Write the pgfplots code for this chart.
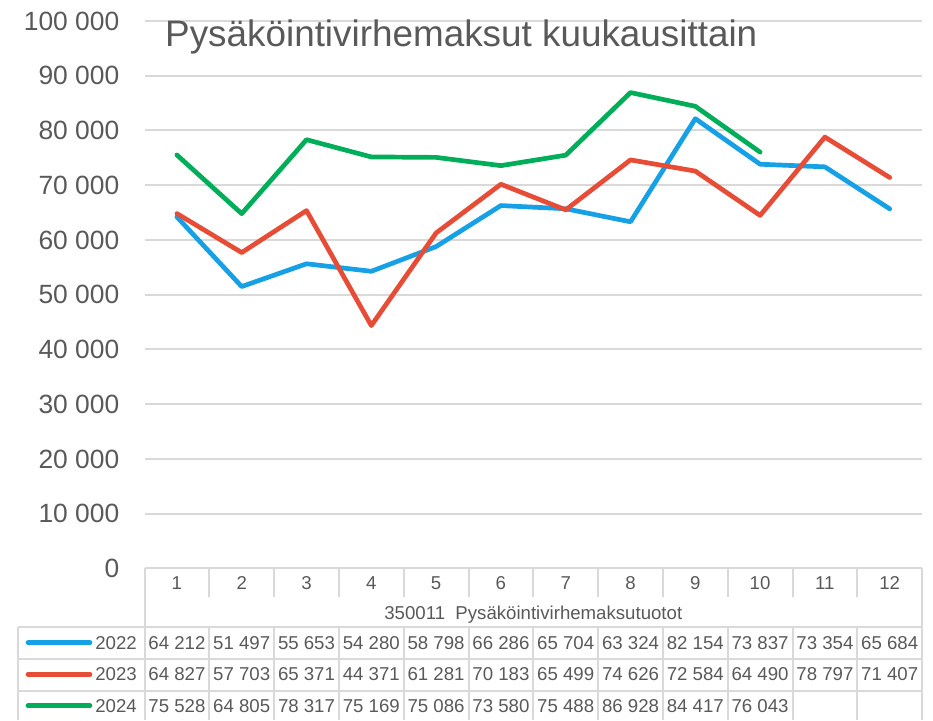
\documentclass[border=0pt]{standalone}
\usepackage{fontspec}
\setmainfont{Liberation Sans}
\usepackage{pgfplots}
\pgfplotsset{compat=1.18}
\definecolor{c22}{RGB}{22,160,230}
\definecolor{c23}{RGB}{231,76,55}
\definecolor{c24}{RGB}{0,174,90}
\definecolor{gridgray}{RGB}{217,217,217}
\definecolor{labgray}{RGB}{89,89,89}

\begin{document}
\begin{tikzpicture}[x=1bp,y=1bp,
  tab/.style={draw=gridgray, line width=2bp},
  txt/.style={font=\fontsize{18.7}{22}\selectfont, text=labgray, inner sep=0pt, text height=13.4bp, text depth=0pt}]

\begin{axis}[
    at={(144.5bp,151.5bp)}, anchor=south west,
    scale only axis,
    width=777.6bp, height=547.5bp,
    xmin=0.5, xmax=12.5,
    ymin=0, ymax=100000,
    axis line style={draw=none},
    xtick=\empty,
    ytick={0,10000,...,100000},
    ymajorgrids,
    grid style={gridgray, line width=2bp},
    major tick length=0pt,
    scaled y ticks=false,
    yticklabel style={font=\fontsize{26.5}{30}\selectfont, text=labgray, anchor=east, inner sep=0pt, xshift=-25bp},
    yticklabel={\pgfmathprintnumber[fixed, precision=0, 1000 sep={\ }, assume math mode=true]{\tick}},
    clip=false,
]
\addplot[c22, line width=4.7bp, line join=round, line cap=round] coordinates {
    (1,64212) (2,51497) (3,55653) (4,54280) (5,58798) (6,66286)
    (7,65704) (8,63324) (9,82154) (10,73837) (11,73354) (12,65684)
};
\addplot[c23, line width=4.7bp, line join=round, line cap=round] coordinates {
    (1,64827) (2,57703) (3,65371) (4,44371) (5,61281) (6,70183)
    (7,65499) (8,74626) (9,72584) (10,64490) (11,78797) (12,71407)
};
\addplot[c24, line width=4.7bp, line join=round, line cap=round] coordinates {
    (1,75528) (2,64805) (3,78317) (4,75169) (5,75086) (6,73580)
    (7,75488) (8,86928) (9,84417) (10,76043)
};
\end{axis}

\path (0,0) rectangle (933,720);

% title
\node[anchor=base west, inner sep=0pt, font=\fontsize{37}{42}\selectfont, text=labgray]
    at (165,673) {Pysäköintivirhemaksut kuukausittain};

% data table under the plot
\foreach \k in {0,...,12} {
    \draw[tab] ({144.5+64.8*\k},151.5) -- ({144.5+64.8*\k},123);
    \draw[tab] ({144.5+64.8*\k},93) -- ({144.5+64.8*\k},0);
}
\draw[tab] (144.5,151.5) -- (144.5,93);
\draw[tab] (922.1,151.5) -- (922.1,93);
\draw[tab] (18,93) -- (18,0);
\foreach \yy in {93,61,29} \draw[tab] (18,\yy) -- (922.1,\yy);

\foreach \k in {1,...,12} \node[txt] at ({144.5+64.8*(\k-0.5)},137) {\k};
\node[txt] at (533.3,107) {350011\ \ Pysäköintivirhemaksutuotot};

\foreach \v [count=\k] in {64 212,51 497,55 653,54 280,58 798,66 286,65 704,63 324,82 154,73 837,73 354,65 684}
    \node[txt] at ({144.5+64.8*(\k-0.5)},77.3) {\v};
\foreach \v [count=\k] in {64 827,57 703,65 371,44 371,61 281,70 183,65 499,74 626,72 584,64 490,78 797,71 407}
    \node[txt] at ({144.5+64.8*(\k-0.5)},45.7) {\v};
\foreach \v [count=\k] in {75 528,64 805,78 317,75 169,75 086,73 580,75 488,86 928,84 417,76 043}
    \node[txt] at ({144.5+64.8*(\k-0.5)},14.3) {\v};

% legend keys
\draw[c22, line width=4.7bp, line cap=round] (28,77.3) -- (90,77.3);
\draw[c23, line width=4.7bp, line cap=round] (28,45.7) -- (90,45.7);
\draw[c24, line width=4.7bp, line cap=round] (28,14.3) -- (90,14.3);
\node[txt, anchor=east] at (137,77.3) {2022};
\node[txt, anchor=east] at (137,45.7) {2023};
\node[txt, anchor=east] at (137,14.3) {2024};
\end{tikzpicture}
\end{document}
